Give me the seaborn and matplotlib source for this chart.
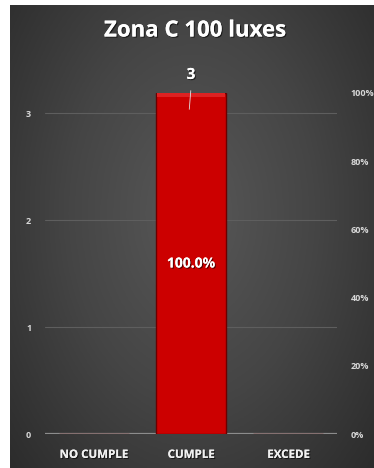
import numpy as np
import pandas as pd
import matplotlib
matplotlib.use("Agg")
import matplotlib.pyplot as plt
import matplotlib.patheffects as pe
from matplotlib.colors import LinearSegmentedColormap
import seaborn as sns

# Chart data
categories = ["NO CUMPLE", "CUMPLE", "EXCEDE"]
counts = [0, 3, 0]
percent = [0.0, 100.0, 0.0]
count_ticks = [0, 1, 2, 3]
pct_ticks = [0, 20, 40, 60, 80, 100]
title = "Zona C 100 luxes"

df = pd.DataFrame({"categoria": categories, "n": counts, "pct": percent})

sns.set_theme(style="dark")
plt.rcParams["font.family"] = ["Open Sans", "DejaVu Sans"]

W, H = 374, 468
fig = plt.figure(figsize=(W / 100, H / 100), dpi=100)
fig.patch.set_facecolor("white")

shadow = [pe.withSimplePatchShadow(offset=(0.8, -0.8), shadow_rgbFace="black", alpha=0.6), pe.Normal()]

# Dark radial-gradient panel behind the chart
bg = fig.add_axes([10 / W, 0, 1 - 10 / W, 1 - 5 / H])
yy, xx = np.mgrid[0:1:300j, 0:1:300j]
r = np.sqrt(((xx - 0.5) / 0.75) ** 2 + ((yy - 0.45) / 0.9) ** 2)
shade = np.clip(1 - r, 0, 1)
cmap = LinearSegmentedColormap.from_list("panel", ["#2c2c2c", "#454545", "#585858"])
bg.imshow(shade, cmap=cmap, aspect="auto", extent=[0, 1, 0, 1], interpolation="bilinear")
bg.set_axis_off()

# Plot area
left, right = 45 / W, 337 / W
bottom, top = (H - 434) / H, (H - 93) / H
ax = fig.add_axes([left, bottom, right - left, top - bottom])
ax.set_facecolor("none")
ax2 = ax.twinx()
ax2.set_facecolor("none")

sns.barplot(data=df, x="categoria", y="pct", order=categories, ax=ax2,
            color="#cc0000", width=0.72, saturation=1,
            edgecolor="#6a0000", linewidth=1.0)

# Light bevel along the top of the bar
for patch, p in zip(ax2.patches, percent):
    if p > 0:
        x0, w = patch.get_x(), patch.get_width()
        ax2.fill_between([x0 + 0.01, x0 + w - 0.01], p - 1.2, p, color="#dd2222", lw=0, zorder=patch.get_zorder() + 0.1)

# Count axis (left)
ax.set_xlim(-0.5, 2.5)
ax.set_ylim(0, 3.19)
ax.set_yticks(count_ticks)
ax.set_yticklabels([str(t) for t in count_ticks])
for t in count_ticks[1:]:
    ax.axhline(t, color="#5e5e5e", lw=0.8, zorder=0)
ax.axhline(0, color="#8c8c8c", lw=1.6, zorder=3)
ax.set_xticks(range(len(categories)))
ax.set_xticklabels(categories)

# Percent axis (right)
ax2.set_ylim(0, 100)
ax2.set_yticks(pct_ticks)
ax2.set_yticklabels([f"{t}%" for t in pct_ticks])
ax2.set_xlim(-0.5, 2.5)

for a in (ax, ax2):
    for s in a.spines.values():
        s.set_visible(False)
    a.tick_params(length=0)
    a.set_xlabel("")
    a.set_ylabel("")
    a.grid(False)

ax.tick_params(axis="y", colors="#d8d8d8", labelsize=6.5, pad=10)
ax2.tick_params(axis="y", colors="#d8d8d8", labelsize=6.5, pad=10)
ax.tick_params(axis="x", colors="#f0f0f0", labelsize=8.3, pad=10)
for lbl in ax.get_yticklabels() + ax2.get_yticklabels() + ax.get_xticklabels():
    lbl.set_fontweight("bold")
for lbl in ax.get_xticklabels():
    lbl.set_fontstretch("condensed")
    lbl.set_path_effects(shadow)

# Percent label inside the bar
txts = ax2.bar_label(ax2.containers[0], labels=[f"{p:.1f}%" if p > 0 else "" for p in percent],
                     label_type="center", color="white", fontsize=10, fontweight="bold")
for t in txts:
    t.set_path_effects(shadow)

# Count label above the bar with leader line
i = counts.index(max(counts))
ax2.annotate("", xy=(i - 0.02, 94.4), xytext=(i, 101.5),
             arrowprops=dict(arrowstyle="-", color="#e0e0e0", lw=0.6))
ax2.annotate(str(counts[i]), xy=(i, percent[i]), xytext=(0, 13),
             textcoords="offset points", ha="center", va="center",
             color="white", fontsize=11, fontweight="bold", annotation_clip=False,
             path_effects=shadow)

fig.text(195 / W, 1 - 31 / H, title, ha="center", va="center",
         color="white", fontsize=16, fontweight="bold", path_effects=shadow)

fig.savefig("out.png", dpi=100, facecolor=fig.get_facecolor())
